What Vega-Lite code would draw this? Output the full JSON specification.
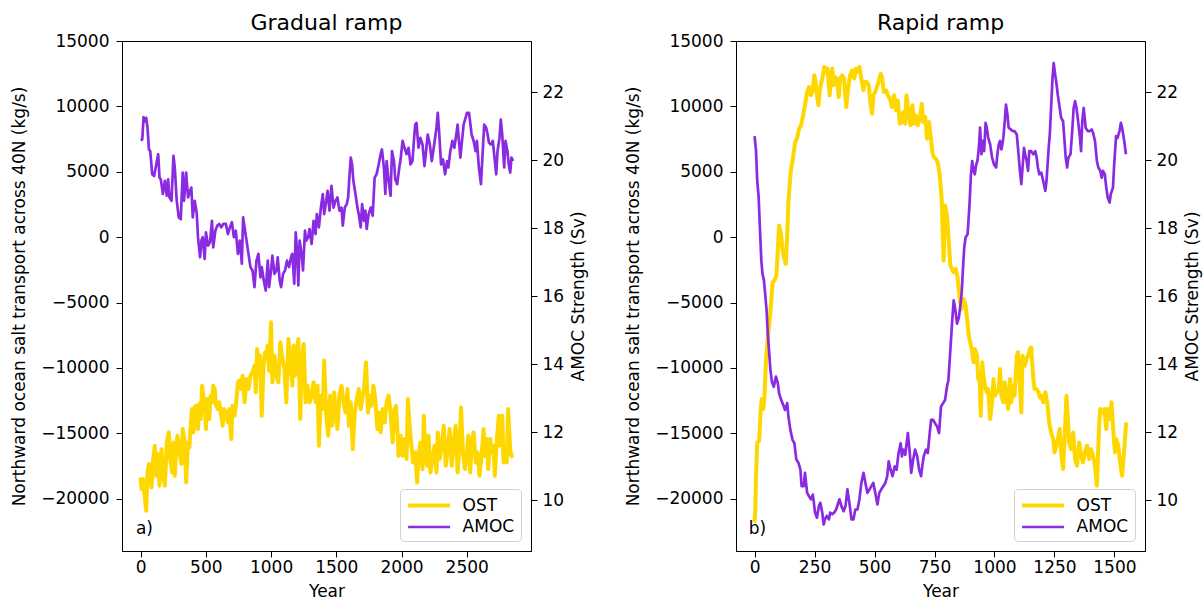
{
"$schema":"https://vega.github.io/schema/vega-lite/v6.json",
"background":"white",
"padding":{"left":10,"top":11,"right":5,"bottom":5},
"bounds":"flush",
"spacing":205,
"datasets":{
"a_ost":[{"year":0,"v":-18370},{"year":8,"v":-19270},{"year":18,"v":-18500},{"year":28,"v":-19520},{"year":43,"v":-20930},{"year":53,"v":-17990},{"year":64,"v":-17350},{"year":74,"v":-18500},{"year":84,"v":-19140},{"year":94,"v":-17230},{"year":109,"v":-15950},{"year":120,"v":-18250},{"year":130,"v":-16590},{"year":145,"v":-19010},{"year":160,"v":-16210},{"year":171,"v":-17990},{"year":186,"v":-19010},{"year":201,"v":-15700},{"year":216,"v":-14930},{"year":227,"v":-16970},{"year":242,"v":-17990},{"year":252,"v":-15700},{"year":262,"v":-18250},{"year":272,"v":-16460},{"year":282,"v":-15180},{"year":298,"v":-16460},{"year":313,"v":-17350},{"year":323,"v":-14670},{"year":338,"v":-15700},{"year":349,"v":-18760},{"year":364,"v":-15700},{"year":374,"v":-16080},{"year":384,"v":-14420},{"year":394,"v":-13140},{"year":405,"v":-14930},{"year":415,"v":-13020},{"year":425,"v":-12890},{"year":440,"v":-14670},{"year":450,"v":-12760},{"year":461,"v":-13910},{"year":471,"v":-11360},{"year":481,"v":-12120},{"year":491,"v":-12760},{"year":501,"v":-14670},{"year":512,"v":-12380},{"year":527,"v":-13910},{"year":537,"v":-12120},{"year":547,"v":-12630},{"year":557,"v":-11360},{"year":568,"v":-11610},{"year":578,"v":-12890},{"year":593,"v":-13140},{"year":603,"v":-12630},{"year":618,"v":-13650},{"year":629,"v":-14420},{"year":639,"v":-13140},{"year":654,"v":-13400},{"year":669,"v":-14160},{"year":680,"v":-13140},{"year":695,"v":-15440},{"year":705,"v":-12890},{"year":720,"v":-13650},{"year":730,"v":-12890},{"year":746,"v":-11100},{"year":756,"v":-10970},{"year":771,"v":-11610},{"year":781,"v":-10590},{"year":797,"v":-12630},{"year":812,"v":-10850},{"year":827,"v":-11610},{"year":842,"v":-10590},{"year":858,"v":-10340},{"year":873,"v":-9830},{"year":883,"v":-11870},{"year":893,"v":-8550},{"year":903,"v":-9570},{"year":914,"v":-9060},{"year":929,"v":-13650},{"year":944,"v":-9570},{"year":954,"v":-8800},{"year":965,"v":-9310},{"year":975,"v":-8290},{"year":985,"v":-10210},{"year":1000,"v":-6510},{"year":1010,"v":-11100},{"year":1026,"v":-9060},{"year":1041,"v":-10590},{"year":1056,"v":-11100},{"year":1071,"v":-8040},{"year":1087,"v":-9310},{"year":1102,"v":-10080},{"year":1117,"v":-12630},{"year":1133,"v":-7780},{"year":1148,"v":-9570},{"year":1163,"v":-11360},{"year":1173,"v":-8290},{"year":1183,"v":-10590},{"year":1194,"v":-9310},{"year":1209,"v":-7780},{"year":1224,"v":-13910},{"year":1234,"v":-9570},{"year":1250,"v":-8170},{"year":1265,"v":-12630},{"year":1280,"v":-11360},{"year":1295,"v":-12630},{"year":1311,"v":-12120},{"year":1326,"v":-11100},{"year":1341,"v":-12630},{"year":1356,"v":-11360},{"year":1367,"v":-15950},{"year":1382,"v":-12120},{"year":1397,"v":-13140},{"year":1407,"v":-9440},{"year":1423,"v":-13650},{"year":1438,"v":-15180},{"year":1453,"v":-12120},{"year":1468,"v":-14420},{"year":1484,"v":-11870},{"year":1494,"v":-13140},{"year":1509,"v":-14670},{"year":1524,"v":-12120},{"year":1540,"v":-11360},{"year":1555,"v":-12630},{"year":1570,"v":-13400},{"year":1586,"v":-11610},{"year":1596,"v":-14420},{"year":1611,"v":-12630},{"year":1626,"v":-16210},{"year":1642,"v":-13400},{"year":1657,"v":-12380},{"year":1672,"v":-11610},{"year":1687,"v":-13140},{"year":1703,"v":-12120},{"year":1713,"v":-11610},{"year":1728,"v":-9570},{"year":1743,"v":-13400},{"year":1759,"v":-12120},{"year":1769,"v":-12890},{"year":1784,"v":-11360},{"year":1799,"v":-12380},{"year":1815,"v":-14670},{"year":1825,"v":-13400},{"year":1840,"v":-14930},{"year":1855,"v":-13140},{"year":1871,"v":-14160},{"year":1886,"v":-12630},{"year":1901,"v":-12120},{"year":1916,"v":-13400},{"year":1932,"v":-15700},{"year":1947,"v":-13140},{"year":1957,"v":-12890},{"year":1967,"v":-14420},{"year":1977,"v":-16720},{"year":1993,"v":-15180},{"year":2008,"v":-16720},{"year":2023,"v":-15440},{"year":2039,"v":-16970},{"year":2049,"v":-12380},{"year":2064,"v":-14670},{"year":2074,"v":-15700},{"year":2089,"v":-17230},{"year":2105,"v":-16460},{"year":2120,"v":-18760},{"year":2130,"v":-16720},{"year":2145,"v":-15700},{"year":2161,"v":-17740},{"year":2171,"v":-13650},{"year":2181,"v":-16460},{"year":2196,"v":-17480},{"year":2207,"v":-15180},{"year":2222,"v":-17990},{"year":2237,"v":-16970},{"year":2252,"v":-15950},{"year":2268,"v":-17990},{"year":2278,"v":-14930},{"year":2293,"v":-16970},{"year":2308,"v":-15950},{"year":2324,"v":-14420},{"year":2339,"v":-17480},{"year":2354,"v":-16210},{"year":2369,"v":-14670},{"year":2385,"v":-17480},{"year":2400,"v":-15700},{"year":2415,"v":-14420},{"year":2430,"v":-17990},{"year":2446,"v":-15700},{"year":2456,"v":-13020},{"year":2471,"v":-16460},{"year":2486,"v":-17740},{"year":2497,"v":-16970},{"year":2512,"v":-15180},{"year":2527,"v":-17990},{"year":2537,"v":-15700},{"year":2553,"v":-14930},{"year":2568,"v":-17230},{"year":2583,"v":-16460},{"year":2598,"v":-18250},{"year":2614,"v":-16720},{"year":2629,"v":-14670},{"year":2639,"v":-16720},{"year":2654,"v":-15440},{"year":2665,"v":-17740},{"year":2680,"v":-15440},{"year":2690,"v":-16460},{"year":2705,"v":-15950},{"year":2715,"v":-18250},{"year":2731,"v":-15440},{"year":2746,"v":-13650},{"year":2756,"v":-15950},{"year":2772,"v":-13650},{"year":2782,"v":-17230},{"year":2792,"v":-16210},{"year":2807,"v":-17230},{"year":2817,"v":-13140},{"year":2833,"v":-16210},{"year":2843,"v":-16720},{"year":2855,"v":-16840}],
"a_amoc":[{"year":0,"v":20.58},{"year":13,"v":20.61},{"year":23,"v":21.26},{"year":33,"v":21.14},{"year":43,"v":21.24},{"year":53,"v":20.95},{"year":64,"v":20.31},{"year":74,"v":20.26},{"year":89,"v":19.58},{"year":104,"v":19.53},{"year":120,"v":19.87},{"year":135,"v":20.17},{"year":145,"v":19.48},{"year":155,"v":19.43},{"year":171,"v":19.0},{"year":186,"v":19.39},{"year":201,"v":18.95},{"year":211,"v":19.43},{"year":221,"v":18.9},{"year":237,"v":18.8},{"year":252,"v":20.12},{"year":262,"v":19.78},{"year":277,"v":18.8},{"year":293,"v":18.31},{"year":308,"v":18.26},{"year":323,"v":19.63},{"year":333,"v":18.8},{"year":349,"v":19.63},{"year":364,"v":18.9},{"year":374,"v":19.04},{"year":389,"v":19.19},{"year":400,"v":18.31},{"year":415,"v":18.8},{"year":430,"v":18.46},{"year":440,"v":17.73},{"year":456,"v":17.14},{"year":466,"v":17.63},{"year":476,"v":17.73},{"year":491,"v":17.09},{"year":501,"v":17.87},{"year":517,"v":17.48},{"year":532,"v":17.58},{"year":547,"v":18.21},{"year":557,"v":17.43},{"year":573,"v":17.92},{"year":588,"v":18.07},{"year":603,"v":18.12},{"year":618,"v":18.02},{"year":634,"v":18.12},{"year":654,"v":18.12},{"year":669,"v":17.82},{"year":685,"v":18.02},{"year":700,"v":18.17},{"year":715,"v":17.73},{"year":730,"v":17.92},{"year":746,"v":17.24},{"year":761,"v":17.63},{"year":776,"v":16.95},{"year":786,"v":18.31},{"year":797,"v":18.02},{"year":812,"v":17.63},{"year":827,"v":17.24},{"year":842,"v":16.85},{"year":858,"v":16.75},{"year":873,"v":16.26},{"year":888,"v":17.04},{"year":903,"v":17.24},{"year":919,"v":16.55},{"year":929,"v":16.85},{"year":944,"v":16.46},{"year":959,"v":16.16},{"year":975,"v":17.04},{"year":985,"v":16.26},{"year":1000,"v":16.75},{"year":1010,"v":17.19},{"year":1026,"v":16.65},{"year":1041,"v":16.75},{"year":1051,"v":17.14},{"year":1066,"v":16.46},{"year":1077,"v":16.26},{"year":1092,"v":16.65},{"year":1107,"v":16.75},{"year":1122,"v":17.04},{"year":1138,"v":16.85},{"year":1153,"v":17.14},{"year":1163,"v":17.24},{"year":1178,"v":16.36},{"year":1189,"v":17.87},{"year":1199,"v":17.34},{"year":1209,"v":16.31},{"year":1219,"v":17.63},{"year":1234,"v":17.24},{"year":1245,"v":16.75},{"year":1260,"v":17.92},{"year":1270,"v":17.63},{"year":1285,"v":17.73},{"year":1295,"v":17.97},{"year":1311,"v":17.53},{"year":1326,"v":18.21},{"year":1341,"v":17.82},{"year":1351,"v":18.41},{"year":1367,"v":18.02},{"year":1382,"v":18.6},{"year":1397,"v":19.0},{"year":1407,"v":18.41},{"year":1423,"v":18.8},{"year":1433,"v":19.09},{"year":1448,"v":18.51},{"year":1463,"v":19.24},{"year":1479,"v":18.6},{"year":1494,"v":18.8},{"year":1509,"v":18.9},{"year":1524,"v":18.51},{"year":1540,"v":18.6},{"year":1550,"v":18.07},{"year":1565,"v":18.6},{"year":1580,"v":18.7},{"year":1591,"v":18.9},{"year":1601,"v":19.53},{"year":1611,"v":20.07},{"year":1621,"v":19.87},{"year":1631,"v":19.39},{"year":1647,"v":19.0},{"year":1662,"v":18.6},{"year":1672,"v":18.41},{"year":1687,"v":18.02},{"year":1698,"v":18.7},{"year":1713,"v":18.21},{"year":1723,"v":18.51},{"year":1733,"v":17.97},{"year":1748,"v":18.41},{"year":1764,"v":18.6},{"year":1779,"v":18.36},{"year":1794,"v":19.48},{"year":1809,"v":19.58},{"year":1825,"v":19.87},{"year":1840,"v":20.17},{"year":1850,"v":20.31},{"year":1865,"v":19.78},{"year":1876,"v":19.0},{"year":1886,"v":19.97},{"year":1901,"v":19.39},{"year":1916,"v":18.95},{"year":1927,"v":20.26},{"year":1942,"v":19.97},{"year":1952,"v":19.43},{"year":1967,"v":19.29},{"year":1983,"v":19.78},{"year":1993,"v":20.02},{"year":2008,"v":20.56},{"year":2023,"v":20.36},{"year":2039,"v":20.17},{"year":2054,"v":20.36},{"year":2069,"v":19.87},{"year":2084,"v":19.97},{"year":2095,"v":20.56},{"year":2105,"v":21.04},{"year":2115,"v":21.09},{"year":2130,"v":20.36},{"year":2145,"v":20.65},{"year":2161,"v":20.46},{"year":2176,"v":19.82},{"year":2186,"v":20.17},{"year":2201,"v":20.75},{"year":2217,"v":20.46},{"year":2232,"v":19.97},{"year":2247,"v":20.36},{"year":2268,"v":20.95},{"year":2278,"v":21.39},{"year":2288,"v":20.85},{"year":2303,"v":19.87},{"year":2318,"v":20.02},{"year":2334,"v":19.58},{"year":2349,"v":19.97},{"year":2359,"v":19.78},{"year":2374,"v":20.26},{"year":2390,"v":20.56},{"year":2405,"v":20.36},{"year":2420,"v":20.75},{"year":2430,"v":21.04},{"year":2440,"v":20.56},{"year":2451,"v":20.07},{"year":2461,"v":20.46},{"year":2476,"v":21.04},{"year":2491,"v":21.24},{"year":2502,"v":21.39},{"year":2517,"v":21.39},{"year":2527,"v":21.09},{"year":2537,"v":20.75},{"year":2553,"v":20.56},{"year":2568,"v":20.26},{"year":2578,"v":20.56},{"year":2593,"v":19.78},{"year":2609,"v":19.29},{"year":2624,"v":20.36},{"year":2634,"v":21.04},{"year":2649,"v":20.95},{"year":2660,"v":20.75},{"year":2670,"v":20.51},{"year":2685,"v":20.46},{"year":2700,"v":20.56},{"year":2710,"v":20.17},{"year":2726,"v":19.58},{"year":2736,"v":20.26},{"year":2751,"v":20.65},{"year":2761,"v":21.19},{"year":2772,"v":20.75},{"year":2787,"v":19.78},{"year":2797,"v":20.56},{"year":2812,"v":20.26},{"year":2822,"v":19.87},{"year":2833,"v":19.63},{"year":2843,"v":20.07},{"year":2855,"v":19.97}],
"b_ost":[{"year":0,"v":-21820},{"year":3,"v":-20800},{"year":6,"v":-18250},{"year":11,"v":-15700},{"year":19,"v":-15570},{"year":25,"v":-13400},{"year":30,"v":-12380},{"year":36,"v":-13140},{"year":41,"v":-12250},{"year":47,"v":-9570},{"year":53,"v":-8040},{"year":61,"v":-6760},{"year":69,"v":-4980},{"year":75,"v":-3450},{"year":83,"v":-3320},{"year":91,"v":-2930},{"year":97,"v":-890},{"year":102,"v":890},{"year":111,"v":130},{"year":116,"v":-890},{"year":124,"v":-1660},{"year":130,"v":-2040},{"year":136,"v":130},{"year":141,"v":2680},{"year":147,"v":4210},{"year":152,"v":5230},{"year":160,"v":6000},{"year":169,"v":7270},{"year":177,"v":7530},{"year":185,"v":8290},{"year":194,"v":8550},{"year":202,"v":9310},{"year":210,"v":10080},{"year":219,"v":11100},{"year":227,"v":11480},{"year":235,"v":10850},{"year":243,"v":11230},{"year":249,"v":12380},{"year":254,"v":11870},{"year":260,"v":10850},{"year":266,"v":10080},{"year":271,"v":11100},{"year":277,"v":11740},{"year":285,"v":12380},{"year":290,"v":13020},{"year":296,"v":12630},{"year":304,"v":12890},{"year":313,"v":10850},{"year":318,"v":12380},{"year":324,"v":12890},{"year":329,"v":11610},{"year":335,"v":12250},{"year":343,"v":12120},{"year":351,"v":10720},{"year":357,"v":12120},{"year":365,"v":12380},{"year":373,"v":12120},{"year":382,"v":9950},{"year":390,"v":11360},{"year":398,"v":12380},{"year":407,"v":12760},{"year":415,"v":12120},{"year":423,"v":12890},{"year":432,"v":12630},{"year":437,"v":13020},{"year":445,"v":12120},{"year":454,"v":11230},{"year":459,"v":11870},{"year":467,"v":11870},{"year":476,"v":11610},{"year":484,"v":10080},{"year":490,"v":9440},{"year":495,"v":10850},{"year":503,"v":11100},{"year":512,"v":11610},{"year":517,"v":11870},{"year":526,"v":12500},{"year":531,"v":12250},{"year":539,"v":11100},{"year":548,"v":11230},{"year":556,"v":10850},{"year":564,"v":10590},{"year":573,"v":9950},{"year":581,"v":10850},{"year":589,"v":9700},{"year":597,"v":10460},{"year":606,"v":8680},{"year":614,"v":8800},{"year":620,"v":9570},{"year":628,"v":8680},{"year":633,"v":10850},{"year":642,"v":9570},{"year":650,"v":8550},{"year":658,"v":10080},{"year":664,"v":8680},{"year":672,"v":9310},{"year":680,"v":8550},{"year":689,"v":9060},{"year":697,"v":10210},{"year":703,"v":8800},{"year":711,"v":9190},{"year":719,"v":7530},{"year":727,"v":8800},{"year":736,"v":7400},{"year":741,"v":6510},{"year":747,"v":6120},{"year":755,"v":6000},{"year":763,"v":5740},{"year":772,"v":4720},{"year":780,"v":2930},{"year":788,"v":-1790},{"year":794,"v":2420},{"year":802,"v":1660},{"year":808,"v":130},{"year":816,"v":-2170},{"year":822,"v":-2420},{"year":830,"v":-2680},{"year":838,"v":-2420},{"year":846,"v":-3060},{"year":855,"v":-4720},{"year":863,"v":-5490},{"year":871,"v":-4720},{"year":880,"v":-5230},{"year":888,"v":-6640},{"year":893,"v":-7530},{"year":902,"v":-8290},{"year":907,"v":-8800},{"year":913,"v":-9570},{"year":918,"v":-8550},{"year":927,"v":-9060},{"year":932,"v":-10850},{"year":938,"v":-10850},{"year":943,"v":-13650},{"year":949,"v":-9570},{"year":954,"v":-10590},{"year":960,"v":-11360},{"year":968,"v":-11870},{"year":974,"v":-11610},{"year":982,"v":-13910},{"year":990,"v":-12630},{"year":996,"v":-10850},{"year":1001,"v":-12120},{"year":1010,"v":-11870},{"year":1018,"v":-11610},{"year":1023,"v":-10080},{"year":1029,"v":-12120},{"year":1037,"v":-12630},{"year":1043,"v":-11100},{"year":1051,"v":-12120},{"year":1057,"v":-13140},{"year":1065,"v":-10850},{"year":1070,"v":-12630},{"year":1079,"v":-11360},{"year":1084,"v":-12120},{"year":1093,"v":-9060},{"year":1098,"v":-8800},{"year":1106,"v":-11360},{"year":1112,"v":-13400},{"year":1117,"v":-9060},{"year":1126,"v":-9830},{"year":1134,"v":-9310},{"year":1140,"v":-9060},{"year":1148,"v":-8550},{"year":1153,"v":-8420},{"year":1162,"v":-10850},{"year":1167,"v":-11610},{"year":1176,"v":-11610},{"year":1184,"v":-11870},{"year":1189,"v":-12250},{"year":1195,"v":-12120},{"year":1203,"v":-12630},{"year":1212,"v":-11870},{"year":1220,"v":-12630},{"year":1228,"v":-14160},{"year":1236,"v":-14930},{"year":1245,"v":-15440},{"year":1250,"v":-16460},{"year":1259,"v":-15950},{"year":1267,"v":-15180},{"year":1272,"v":-14670},{"year":1278,"v":-16460},{"year":1286,"v":-17740},{"year":1292,"v":-15440},{"year":1300,"v":-12120},{"year":1306,"v":-13910},{"year":1311,"v":-15700},{"year":1319,"v":-16210},{"year":1328,"v":-14930},{"year":1336,"v":-16970},{"year":1344,"v":-17480},{"year":1353,"v":-15700},{"year":1361,"v":-16720},{"year":1369,"v":-17230},{"year":1377,"v":-16460},{"year":1386,"v":-15950},{"year":1394,"v":-16970},{"year":1402,"v":-16210},{"year":1411,"v":-16720},{"year":1419,"v":-17480},{"year":1427,"v":-19010},{"year":1436,"v":-14420},{"year":1441,"v":-13140},{"year":1449,"v":-13400},{"year":1458,"v":-13140},{"year":1466,"v":-14670},{"year":1472,"v":-13140},{"year":1480,"v":-13910},{"year":1488,"v":-12630},{"year":1494,"v":-14420},{"year":1502,"v":-16460},{"year":1507,"v":-15440},{"year":1516,"v":-15950},{"year":1524,"v":-17230},{"year":1532,"v":-18250},{"year":1541,"v":-16210},{"year":1549,"v":-14160}],
"b_amoc":[{"year":0,"v":20.7},{"year":6,"v":20.26},{"year":11,"v":19.39},{"year":17,"v":18.9},{"year":22,"v":18.02},{"year":28,"v":17.04},{"year":33,"v":16.65},{"year":39,"v":16.46},{"year":44,"v":16.07},{"year":50,"v":15.58},{"year":55,"v":14.9},{"year":61,"v":14.31},{"year":66,"v":13.82},{"year":72,"v":13.48},{"year":80,"v":13.33},{"year":89,"v":13.63},{"year":97,"v":13.43},{"year":102,"v":13.14},{"year":111,"v":12.94},{"year":119,"v":12.8},{"year":127,"v":12.65},{"year":136,"v":12.85},{"year":141,"v":12.46},{"year":149,"v":12.07},{"year":158,"v":11.77},{"year":166,"v":11.67},{"year":174,"v":11.19},{"year":183,"v":11.09},{"year":191,"v":10.89},{"year":196,"v":10.41},{"year":205,"v":10.41},{"year":210,"v":10.8},{"year":219,"v":10.21},{"year":227,"v":10.11},{"year":235,"v":10.02},{"year":243,"v":10.16},{"year":252,"v":9.63},{"year":260,"v":9.48},{"year":268,"v":9.82},{"year":274,"v":9.92},{"year":282,"v":9.63},{"year":288,"v":9.28},{"year":293,"v":9.43},{"year":301,"v":9.53},{"year":310,"v":9.43},{"year":315,"v":9.63},{"year":324,"v":9.58},{"year":332,"v":9.63},{"year":340,"v":9.72},{"year":349,"v":9.92},{"year":354,"v":10.02},{"year":362,"v":9.82},{"year":371,"v":9.67},{"year":379,"v":9.82},{"year":387,"v":10.31},{"year":396,"v":9.87},{"year":404,"v":9.43},{"year":412,"v":9.43},{"year":420,"v":9.72},{"year":429,"v":9.72},{"year":437,"v":10.02},{"year":445,"v":10.5},{"year":454,"v":10.8},{"year":462,"v":10.5},{"year":470,"v":10.21},{"year":479,"v":10.31},{"year":487,"v":10.41},{"year":495,"v":10.5},{"year":503,"v":10.21},{"year":512,"v":9.87},{"year":520,"v":10.21},{"year":528,"v":10.31},{"year":537,"v":10.41},{"year":545,"v":10.5},{"year":553,"v":10.7},{"year":559,"v":11.14},{"year":567,"v":10.89},{"year":575,"v":10.7},{"year":584,"v":10.99},{"year":592,"v":10.89},{"year":600,"v":11.38},{"year":609,"v":11.67},{"year":614,"v":11.28},{"year":620,"v":11.48},{"year":628,"v":11.33},{"year":639,"v":11.97},{"year":647,"v":11.38},{"year":653,"v":10.8},{"year":661,"v":11.19},{"year":669,"v":11.48},{"year":678,"v":11.28},{"year":686,"v":10.89},{"year":694,"v":10.7},{"year":700,"v":11.04},{"year":705,"v":11.28},{"year":714,"v":11.48},{"year":722,"v":11.38},{"year":730,"v":11.97},{"year":736,"v":12.36},{"year":744,"v":12.36},{"year":752,"v":12.26},{"year":761,"v":12.16},{"year":769,"v":11.97},{"year":777,"v":12.75},{"year":786,"v":12.85},{"year":794,"v":12.94},{"year":802,"v":13.33},{"year":808,"v":13.53},{"year":816,"v":14.41},{"year":824,"v":15.29},{"year":830,"v":15.87},{"year":835,"v":15.68},{"year":844,"v":15.19},{"year":852,"v":15.38},{"year":857,"v":15.68},{"year":863,"v":16.07},{"year":869,"v":16.85},{"year":874,"v":17.43},{"year":880,"v":17.73},{"year":888,"v":17.82},{"year":896,"v":18.7},{"year":902,"v":19.58},{"year":907,"v":19.97},{"year":913,"v":19.68},{"year":918,"v":19.58},{"year":924,"v":19.87},{"year":929,"v":19.97},{"year":935,"v":20.36},{"year":940,"v":20.95},{"year":946,"v":20.17},{"year":951,"v":20.56},{"year":957,"v":20.26},{"year":963,"v":21.09},{"year":968,"v":20.95},{"year":974,"v":20.65},{"year":982,"v":20.46},{"year":990,"v":20.07},{"year":998,"v":19.87},{"year":1007,"v":19.78},{"year":1012,"v":20.17},{"year":1018,"v":20.46},{"year":1023,"v":20.56},{"year":1029,"v":20.31},{"year":1037,"v":20.65},{"year":1043,"v":21.14},{"year":1048,"v":21.63},{"year":1054,"v":21.34},{"year":1059,"v":20.95},{"year":1068,"v":20.9},{"year":1076,"v":20.85},{"year":1084,"v":20.85},{"year":1093,"v":20.75},{"year":1098,"v":20.36},{"year":1106,"v":19.68},{"year":1112,"v":19.29},{"year":1117,"v":19.78},{"year":1123,"v":20.36},{"year":1129,"v":20.12},{"year":1134,"v":19.97},{"year":1140,"v":19.68},{"year":1145,"v":20.26},{"year":1153,"v":20.26},{"year":1162,"v":20.17},{"year":1170,"v":20.26},{"year":1176,"v":20.07},{"year":1181,"v":19.78},{"year":1187,"v":19.58},{"year":1195,"v":19.63},{"year":1203,"v":19.39},{"year":1212,"v":19.09},{"year":1217,"v":19.39},{"year":1225,"v":20.26},{"year":1231,"v":20.8},{"year":1236,"v":21.53},{"year":1242,"v":22.41},{"year":1247,"v":22.85},{"year":1253,"v":22.51},{"year":1259,"v":22.22},{"year":1264,"v":21.92},{"year":1272,"v":21.53},{"year":1278,"v":21.24},{"year":1286,"v":21.14},{"year":1292,"v":20.56},{"year":1297,"v":20.07},{"year":1303,"v":19.78},{"year":1308,"v":20.07},{"year":1317,"v":20.17},{"year":1325,"v":20.95},{"year":1330,"v":21.53},{"year":1336,"v":21.73},{"year":1342,"v":21.53},{"year":1347,"v":21.24},{"year":1355,"v":20.75},{"year":1361,"v":20.26},{"year":1366,"v":21.14},{"year":1372,"v":21.53},{"year":1380,"v":20.95},{"year":1389,"v":20.85},{"year":1397,"v":20.85},{"year":1405,"v":20.9},{"year":1411,"v":20.8},{"year":1419,"v":20.56},{"year":1427,"v":19.97},{"year":1433,"v":19.78},{"year":1441,"v":19.68},{"year":1447,"v":19.48},{"year":1452,"v":19.68},{"year":1460,"v":19.58},{"year":1466,"v":19.19},{"year":1472,"v":18.9},{"year":1480,"v":18.75},{"year":1485,"v":19.0},{"year":1494,"v":19.19},{"year":1499,"v":19.87},{"year":1507,"v":20.7},{"year":1513,"v":20.65},{"year":1521,"v":20.85},{"year":1527,"v":21.09},{"year":1532,"v":20.95},{"year":1541,"v":20.56},{"year":1548,"v":20.17}]
},
"config":{
"font":"DejaVu Sans",
"view":{"stroke":"black","strokeWidth":1},
"axis":{"grid":false,"domainColor":"black","domainWidth":1,"tickColor":"black","tickSize":6,"labelColor":"black","labelFontSize":17,"labelPadding":5,"titleColor":"black","titleFontSize":17,"titleFontWeight":"normal","labelFlush":false,"labelOverlap":false},
"title":{"fontSize":22,"fontWeight":"normal","color":"black","offset":-3,"anchor":"middle"}
},
"resolve":{"scale":{"color":"independent","strokeWidth":"independent"},"legend":{"color":"independent","strokeWidth":"independent"}},
"hconcat":[
{
"title":{"text":"Gradual ramp"},
"width":409,"height":510,
"resolve":{"scale":{"y":"independent"}},
"layer":[
{"layer":[
{"data":{"name":"a_ost"},"mark":{"type":"line","strokeJoin":"round"},
"encoding":{
"x":{"field":"year","type":"quantitative","scale":{"domain":[-142.5,2992.5],"nice":false,"zero":false},"axis":{"title":"Year","values":[0,500,1000,1500,2000,2500],"format":"d","labelPadding":2,"titlePadding":8}},
"y":{"field":"v","type":"quantitative","scale":{"domain":[-24000,15000],"nice":false,"zero":false},"axis":{"orient":"left","title":"Northward ocean salt transport across 40N (kg/s)","values":[-20000,-15000,-10000,-5000,0,5000,10000,15000],"format":"d","labelPadding":7,"titlePadding":12}},
"color":{"datum":"OST","type":"nominal","scale":{"domain":["OST","AMOC"],"range":["#FFD700","#8A2BE2"]},"legend":{"title":null,"orient":"bottom-right","offset":10,"padding":6,"rowPadding":3,"labelFontSize":17,"labelColor":"black","symbolType":"M-2.5,0H2.5","symbolSize":282,"symbolOffset":12.6,"labelOffset":23,"strokeColor":"#d0d0d0","fillColor":"white","cornerRadius":4}},
"strokeWidth":{"datum":"OST","type":"ordinal","scale":{"domain":["OST","AMOC"],"range":[4,2.7]},"legend":{"title":null,"orient":"bottom-right","offset":10,"padding":6,"rowPadding":3,"labelFontSize":17,"labelColor":"black","symbolType":"M-2.5,0H2.5","symbolSize":282,"symbolOffset":12.6,"labelOffset":23,"strokeColor":"#d0d0d0","fillColor":"white","cornerRadius":4}}
}},
{"data":{"values":[{}]},"mark":{"type":"text","align":"left","baseline":"alphabetic","fontSize":17,"color":"black"},
"encoding":{
"x":{"datum":-36,"type":"quantitative","scale":{"domain":[-142.5,2992.5],"nice":false,"zero":false}},
"y":{"datum":-22700,"type":"quantitative","scale":{"domain":[-24000,15000],"nice":false,"zero":false}},
"text":{"value":"a)"}}}
]},
{"data":{"name":"a_amoc"},"mark":{"type":"line","strokeJoin":"round"},
"encoding":{
"x":{"field":"year","type":"quantitative","scale":{"domain":[-142.5,2992.5],"nice":false,"zero":false}},
"y":{"field":"v","type":"quantitative","scale":{"domain":[8.5,23.5],"nice":false,"zero":false},"axis":{"orient":"right","title":"AMOC Strength (Sv)","values":[10,12,14,16,18,20,22],"titleAngle":270,"titleBaseline":"top","titlePadding":7}},
"color":{"datum":"AMOC","type":"nominal"},
"strokeWidth":{"datum":"AMOC","type":"ordinal"}
}}
]
},
{
"title":{"text":"Rapid ramp"},
"width":409,"height":510,
"resolve":{"scale":{"y":"independent"}},
"layer":[
{"layer":[
{"data":{"name":"b_ost"},"mark":{"type":"line","strokeJoin":"round"},
"encoding":{
"x":{"field":"year","type":"quantitative","scale":{"domain":[-77.5,1627.5],"nice":false,"zero":false},"axis":{"title":"Year","values":[0,250,500,750,1000,1250,1500],"format":"d","labelPadding":2,"titlePadding":8}},
"y":{"field":"v","type":"quantitative","scale":{"domain":[-24000,15000],"nice":false,"zero":false},"axis":{"orient":"left","title":"Northward ocean salt transport across 40N (kg/s)","values":[-20000,-15000,-10000,-5000,0,5000,10000,15000],"format":"d","labelPadding":7,"titlePadding":12}},
"color":{"datum":"OST","type":"nominal","scale":{"domain":["OST","AMOC"],"range":["#FFD700","#8A2BE2"]},"legend":{"title":null,"orient":"bottom-right","offset":10,"padding":6,"rowPadding":3,"labelFontSize":17,"labelColor":"black","symbolType":"M-2.5,0H2.5","symbolSize":282,"symbolOffset":12.6,"labelOffset":23,"strokeColor":"#d0d0d0","fillColor":"white","cornerRadius":4}},
"strokeWidth":{"datum":"OST","type":"ordinal","scale":{"domain":["OST","AMOC"],"range":[4,2.7]},"legend":{"title":null,"orient":"bottom-right","offset":10,"padding":6,"rowPadding":3,"labelFontSize":17,"labelColor":"black","symbolType":"M-2.5,0H2.5","symbolSize":282,"symbolOffset":12.6,"labelOffset":23,"strokeColor":"#d0d0d0","fillColor":"white","cornerRadius":4}}
}},
{"data":{"values":[{}]},"mark":{"type":"text","align":"left","baseline":"alphabetic","fontSize":17,"color":"black"},
"encoding":{
"x":{"datum":-24,"type":"quantitative","scale":{"domain":[-77.5,1627.5],"nice":false,"zero":false}},
"y":{"datum":-22700,"type":"quantitative","scale":{"domain":[-24000,15000],"nice":false,"zero":false}},
"text":{"value":"b)"}}}
]},
{"data":{"name":"b_amoc"},"mark":{"type":"line","strokeJoin":"round"},
"encoding":{
"x":{"field":"year","type":"quantitative","scale":{"domain":[-77.5,1627.5],"nice":false,"zero":false}},
"y":{"field":"v","type":"quantitative","scale":{"domain":[8.5,23.5],"nice":false,"zero":false},"axis":{"orient":"right","title":"AMOC Strength (Sv)","values":[10,12,14,16,18,20,22],"titleAngle":270,"titleBaseline":"top","titlePadding":7}},
"color":{"datum":"AMOC","type":"nominal"},
"strokeWidth":{"datum":"AMOC","type":"ordinal"}
}}
]
}
]
}
